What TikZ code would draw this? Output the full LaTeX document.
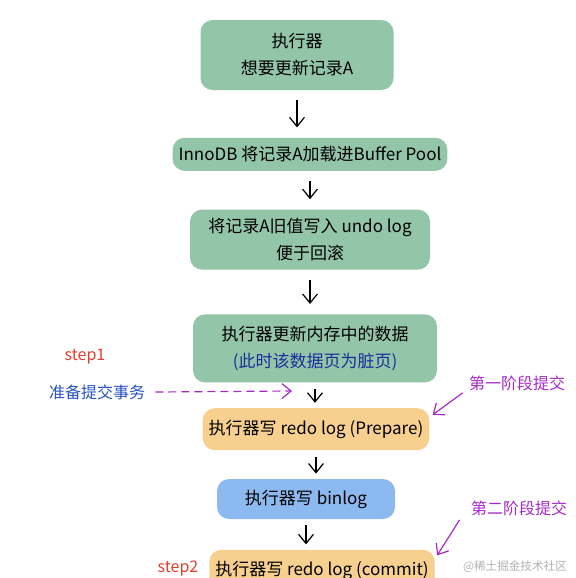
\documentclass[tikz,border=0pt]{standalone}
\usepackage{fontspec}
\newfontfamily\cjk{Noto Sans CJK SC}
\usetikzlibrary{positioning, arrows.meta}
\definecolor{boxgreen}{HTML}{93C5A9}
\definecolor{boxorange}{HTML}{F7CF8E}
\definecolor{boxblue}{HTML}{8CB9EF}
\definecolor{notepurple}{HTML}{A52BC9}
\definecolor{stepred}{HTML}{E2402F}
\definecolor{noteblue}{HTML}{2450C2}
\definecolor{darkblue}{HTML}{1A2F9A}
\tikzset{
  fblk/.style={rounded corners=6pt, align=center, font=\cjk\fontsize{8.5}{13.5}\selectfont,
               inner sep=3pt},
  fgreen/.style={fblk, fill=boxgreen},
  forange/.style={fblk, fill=boxorange},
  fblue/.style={fblk, fill=boxblue},
  farr/.style={-{Straight Barb[length=1.6mm, width=2.6mm]}, semithick,
               shorten <=5pt, shorten >=5pt},
  fshort/.style={farr, shorten <=3pt, shorten >=2.5pt},
  parr/.style={-{Straight Barb[length=1.6mm, width=2.6mm]}, semithick, notepurple},
  note/.style={font=\cjk\fontsize{8}{10}\selectfont, inner sep=1pt},
}

\begin{document}
\begin{tikzpicture}[x=0.5pt, y=-0.5pt]
        \useasboundingbox (0,0) rectangle (575,578);
        \clip (0,0) rectangle (575,578);
        % main chain
        \node[fgreen, minimum width=96.5pt, minimum height=35pt](exec) at (297,55){执行器\\想要更新记录A};
        \node[fgreen, minimum width=120pt, minimum height=16.5pt, below=23.5pt of exec, xshift=6.5pt](load){InnoDB 将记录A加载进Buffer Pool};
        \node[fgreen, minimum width=120pt, minimum height=30pt, below=19pt of load](undo){将记录A旧值写入 undo log\\便于回滚};
        \node[fgreen, minimum width=122pt, minimum height=34pt, below=22pt of undo, xshift=2.5pt](mem){执行器更新内存中的数据\\\textcolor{darkblue}{(此时该数据页为脏页)}};
        \node[forange, minimum width=111pt, minimum height=21pt, below=12.5pt of mem, xshift=0.5pt](prep){执行器写 redo log (Prepare)};
        \node[fblue, minimum width=89pt, minimum height=20pt, below=14pt of prep, xshift=-5pt](binl){执行器写 binlog};
        \node[forange, minimum width=107.5pt, minimum height=21pt, below=15pt of binl, xshift=8pt](comm){执行器写 redo log (commit)};
        \draw[farr](exec.south)--(exec.south |- load.north);
        \draw[farr](load.south)--(load.south |- undo.north);
        \draw[farr](undo.south)--(undo.south |- mem.north);
        \draw[fshort](mem.south)--(mem.south |- prep.north);
        \draw[fshort](prep.south)--(prep.south |- binl.north);
        \draw[fshort](binl.south)--(binl.south |- comm.north);
        % side notes
        \node[note, text=stepred](s1) at (85,357){step1};
        \node[note, text=noteblue](ready) at (97,392){准备提交事务};
        \coordinate (dashend) at (292,391);
        \draw[parr, dash pattern=on 4pt off 2.5pt](ready.east)++(8,0)--(dashend);
        \node[note, text=notepurple](ph1) at (517,383){第一阶段提交};
        \node[note, text=notepurple](ph2) at (519,508){第二阶段提交};
        \draw[parr](ph1.south west)++(-4,0)--([shift={(3,7)}]prep.north east);
        \draw[parr](ph2.south west)++(-9,2)--([shift={(2,6)}]comm.north east);
        \node[note, text=stepred](s2) at (178,569){step2};
        \node[note, text=black!30, font=\cjk\fontsize{5.8}{7}\selectfont](mark) at (515,567){@稀土掘金技术社区};
      \end{tikzpicture}
\end{document}
